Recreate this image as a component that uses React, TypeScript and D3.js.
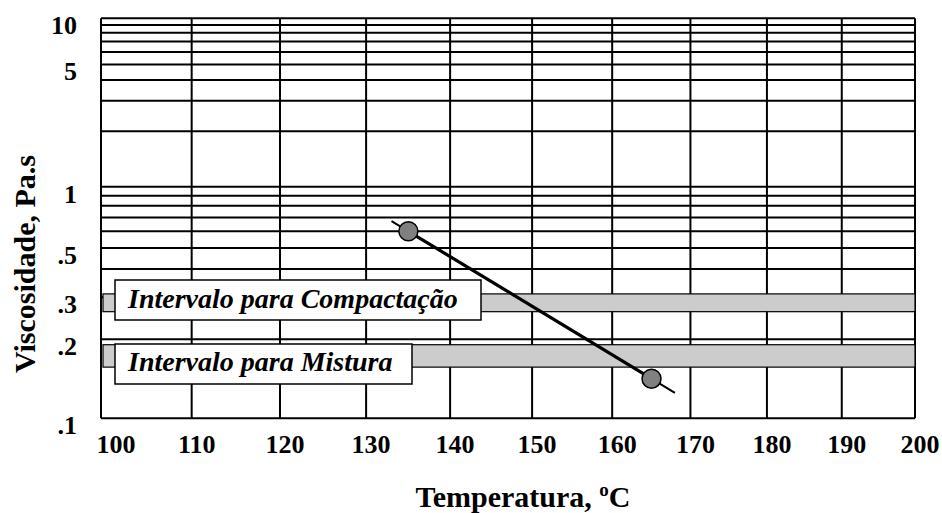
import React from 'react';
import * as d3 from 'd3';

// ---- data ----
const xTicks = [100, 110, 120, 130, 140, 150, 160, 170, 180, 190, 200];
const yGridValues = [10, 9, 8, 7, 6, 5, 4, 3, 2, 1, 0.9, 0.8, 0.7, 0.6, 0.5, 0.4, 0.3, 0.2, 0.1];
const yTickValues = [10, 5, 1, 0.5, 0.3, 0.2, 0.1];
const yTickLabels = ['10', '5', '1', '.5', '.3', '.2', '.1'];
const pointTemps = [135, 165];
const pointVisc = [0.6, 0.14];
const trendTemps = [133, 168];
const bandNames = ['Intervalo para Compactação', 'Intervalo para Mistura'];
const bandLow = [0.26, 0.155];
const bandHigh = [0.31, 0.19];

const FONT = '"Liberation Serif", "Times New Roman", serif';

export default function App() {
  const W = 942;
  const H = 513;
  const left = 101, right = 915, top = 18.3, bottom = 418.3;

  // temperature axis: log of absolute temperature
  const tT = (t: number) => Math.log10(t + 273.15);
  const xs = d3.scaleLinear().domain([tT(100), tT(200)]).range([left, right]);
  const X = (t: number) => xs(tT(t));
  // viscosity axis: log-log
  const tV = (v: number) => Math.log10(Math.log10(v * 1700));
  const ys = d3.scaleLinear().domain([tV(0.1), tV(10)]).range([bottom, top]);
  const Y = (v: number) => ys(tV(v));

  const pts = pointTemps.map((t, i) => [X(t), Y(pointVisc[i])] as [number, number]);
  const slope = (pts[1][1] - pts[0][1]) / (pts[1][0] - pts[0][0]);
  const trendPts = trendTemps.map((t) => {
    const px = X(t);
    return [px, pts[0][1] + slope * (px - pts[0][0])] as [number, number];
  });
  const line = d3.line();

  const boxLayout = [
    { x: 115, y: 280, w: 366, h: 40, tx: 128, ty: 308 },
    { x: 115, y: 344, w: 297, h: 40, tx: 128, ty: 371 },
  ];

  return (
    <svg width={W} height={H} style={{ position: 'absolute', left: 0, top: 0, background: '#fff' }}
      fontFamily={FONT}>
      <rect x={0} y={0} width={W} height={H} fill="#fff" />
      {/* horizontal grid lines */}
      {yGridValues.map((v) => (
        <line key={'h' + v} x1={left} x2={right} y1={Y(v)} y2={Y(v)} stroke="#000" strokeWidth={2} />
      ))}
      {/* vertical grid lines */}
      {xTicks.map((t) => (
        <line key={'v' + t} x1={X(t)} x2={X(t)} y1={Y(10)} y2={Y(0.1)} stroke="#000" strokeWidth={2} />
      ))}
      {/* bands */}
      {bandNames.map((n, i) => (
        <rect key={'b' + i} x={X(100) + 2} y={Y(bandHigh[i])} width={X(200) - X(100) - 2}
          height={Y(bandLow[i]) - Y(bandHigh[i])} fill="#cccccc" stroke="#000" strokeWidth={1.2} />
      ))}
      {/* trend line */}
      <path d={line(trendPts) || ''} stroke="#000" strokeWidth={2} fill="none" />
      <path d={line(pts) || ''} stroke="#000" strokeWidth={3.2} fill="none" />
      {pts.map((p, i) => (
        <circle key={'p' + i} cx={p[0]} cy={p[1]} r={9.5} fill="#808080" stroke="#000" strokeWidth={1.5} />
      ))}
      {/* band boxes */}
      {bandNames.map((n, i) => {
        const b = boxLayout[i];
        return (
          <g key={'bx' + i}>
            <rect x={b.x} y={b.y} width={b.w} height={b.h} fill="#fff" stroke="#000" strokeWidth={1.5} />
            <text x={b.tx} y={b.ty} fontSize={28} fontWeight="bold" fontStyle="italic">{n}</text>
          </g>
        );
      })}
      {/* x tick labels */}
      {xTicks.map((t, i) => (
        <text key={'xl' + t} x={i === 0 ? X(t) + 15 : X(t) + 5} y={453} fontSize={26} fontWeight="bold"
          textAnchor="middle">{t}</text>
      ))}
      {/* y tick labels */}
      {yTickValues.map((v, i) => (
        <text key={'yl' + v} x={77} y={Y(v) + 16} fontSize={26} fontWeight="bold" textAnchor="end">
          {yTickLabels[i]}
        </text>
      ))}
      {/* axis titles */}
      <text x={523} y={507} fontSize={30} fontWeight="bold" textAnchor="middle">
        Temperatura, <tspan fontSize={19} dy={-11}>o</tspan><tspan dy={11}>C</tspan>
      </text>
      <text transform="translate(35,264) rotate(-90)" fontSize={30} fontWeight="bold" textAnchor="middle">
        Viscosidade, Pa.s
      </text>
    </svg>
  );
}
